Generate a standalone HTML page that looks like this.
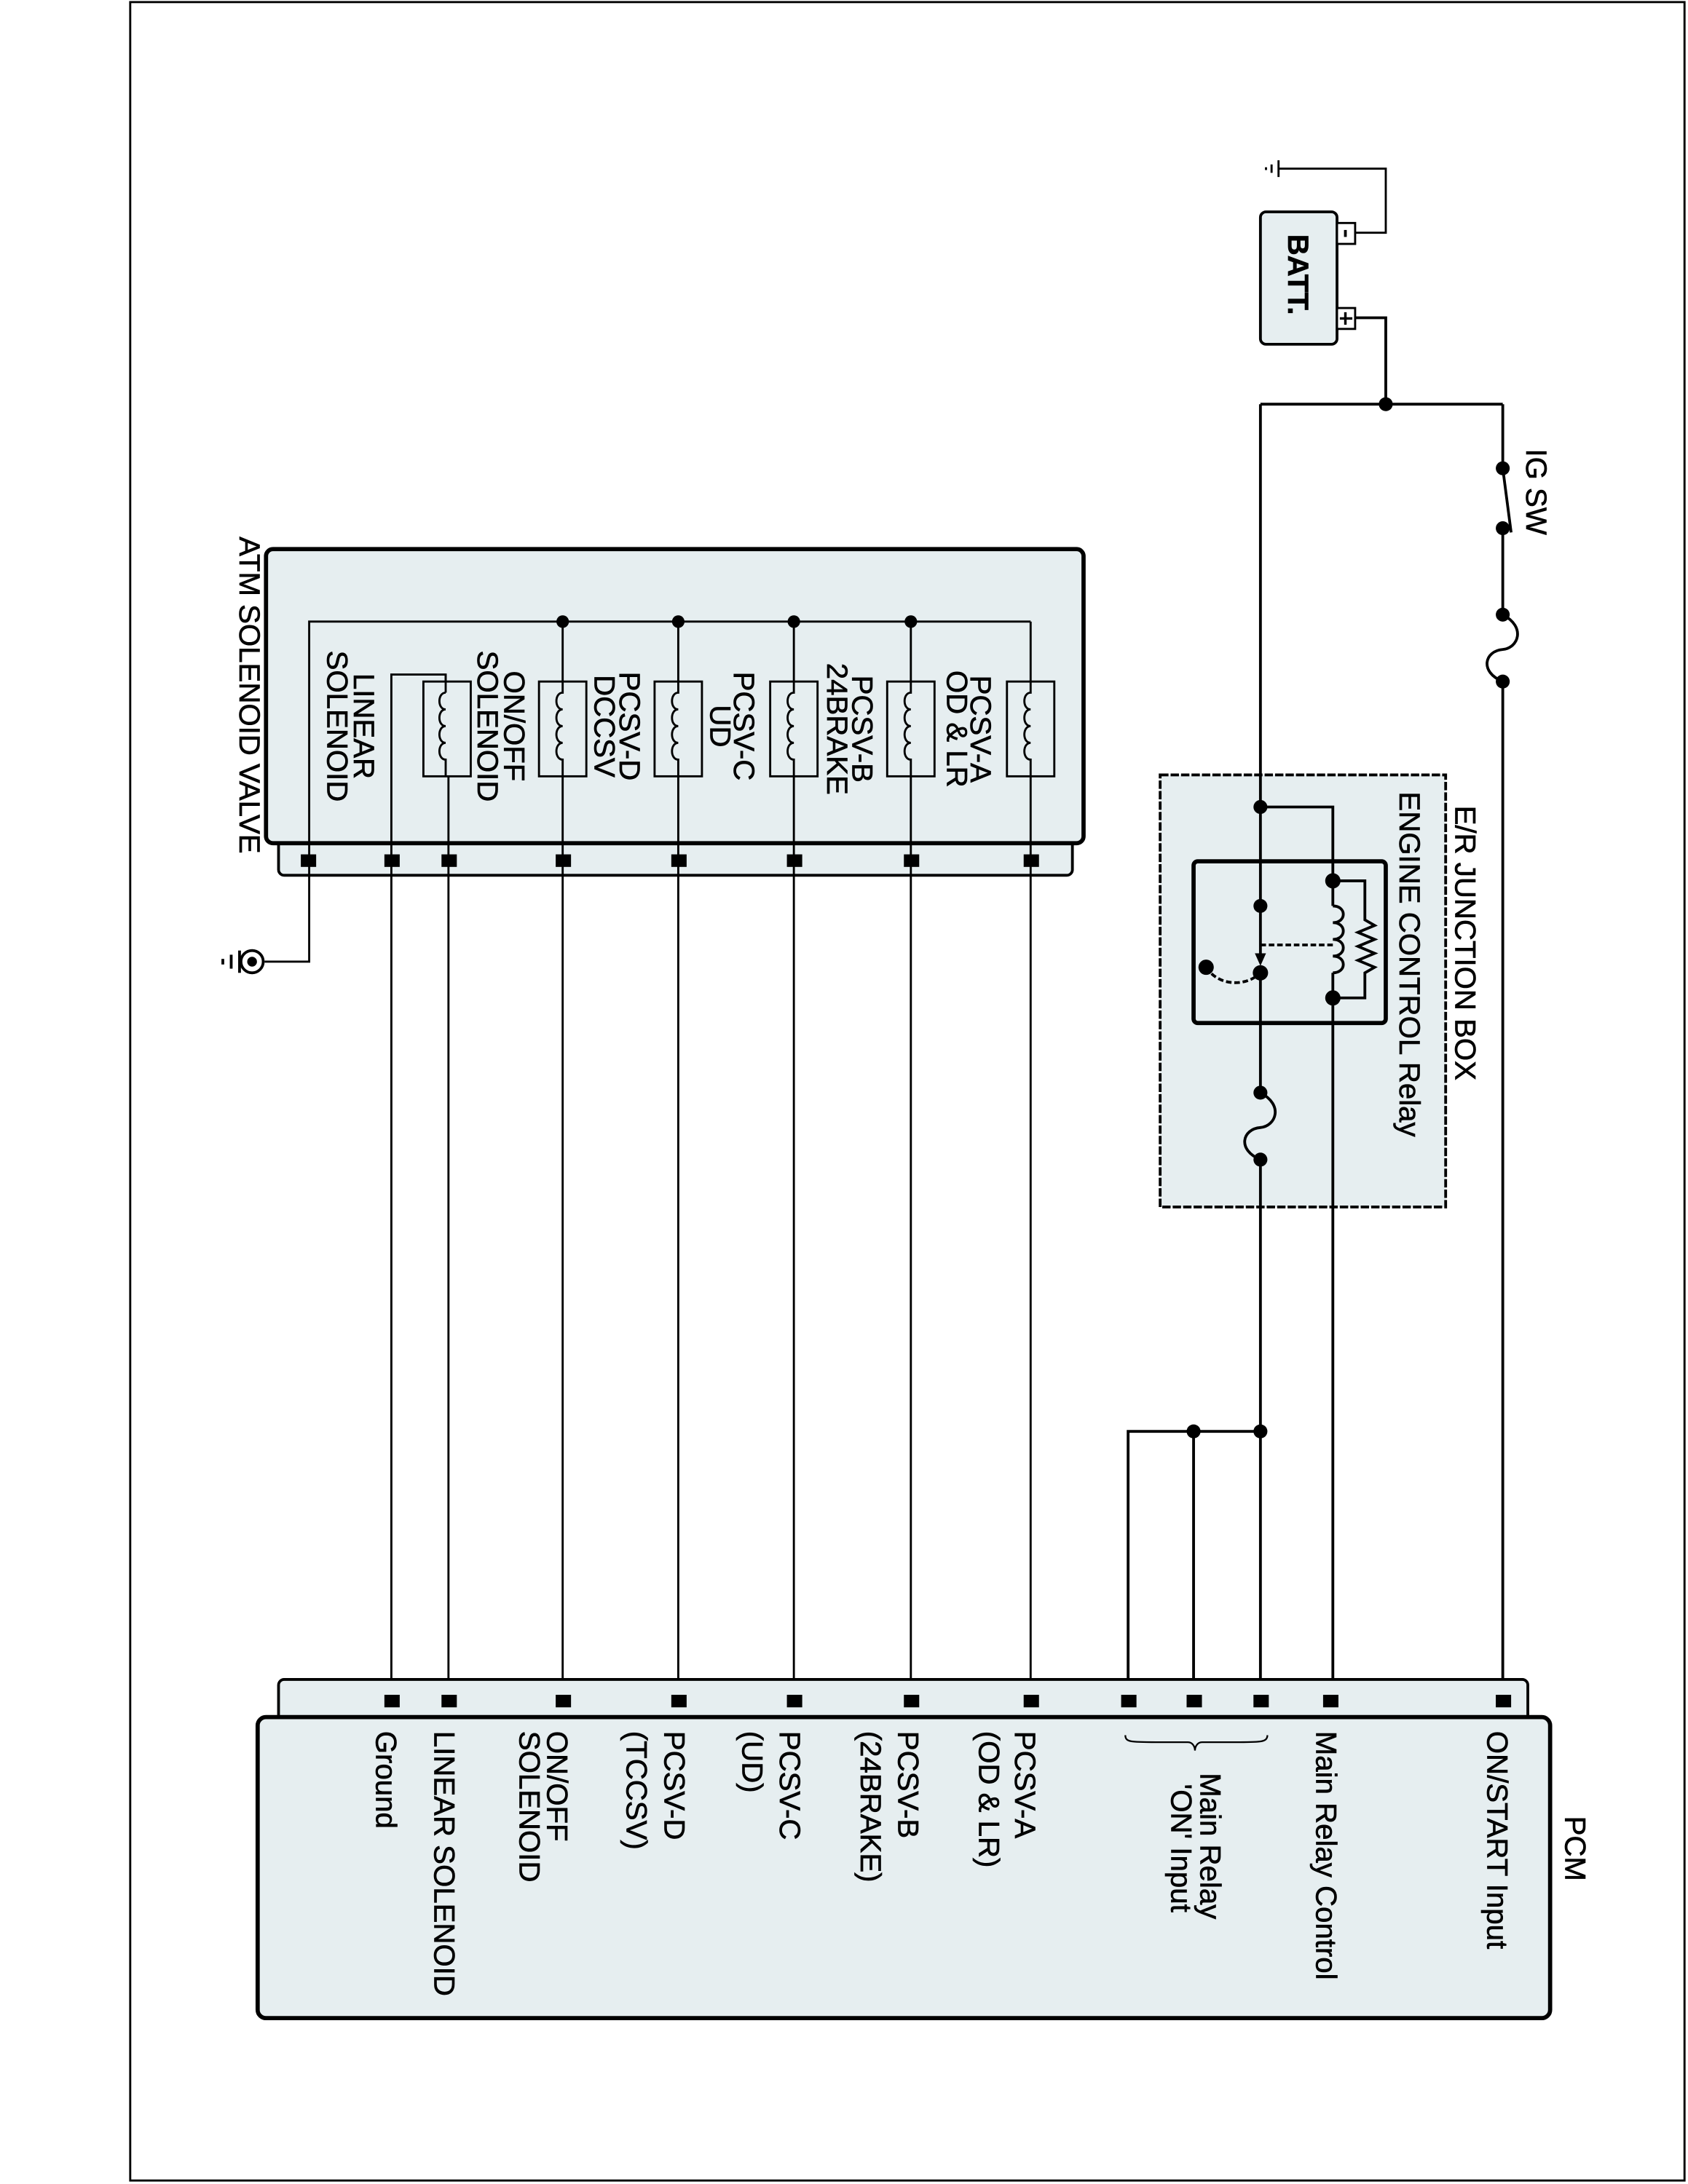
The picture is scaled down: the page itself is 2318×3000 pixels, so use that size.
<!DOCTYPE html>
<html><head><meta charset="utf-8"><style>html,body{margin:0;padding:0;background:#fff}svg{display:block}text{font-family:"Liberation Sans",Arial,sans-serif;font-size:21px;fill:#000;stroke:#000;stroke-width:0.35}</style></head>
<body>
<svg width="2318" height="3000" viewBox="0 0 1212 1567" preserveAspectRatio="none" xmlns="http://www.w3.org/2000/svg">
<rect x="0" y="0" width="1212" height="1567" fill="#fff"/>
<rect x="93.5" y="1.5" width="1116" height="1563" fill="none" stroke="#000" stroke-width="1.5"/>

<!-- Junction box background -->
<rect x="833" y="556" width="205" height="310" fill="#e6eef0" stroke="#000" stroke-width="2" stroke-dasharray="6,1.5"/>
<text transform="translate(1045,578) rotate(90)">E/R JUNCTION BOX</text>
<text transform="translate(1005,568) rotate(90)">ENGINE CONTROL Relay</text>
<rect x="857" y="618" width="138" height="116" rx="3" fill="none" stroke="#000" stroke-width="3"/>

<!-- Battery -->
<rect x="905" y="152" width="55" height="95" rx="4" fill="#e6eef0" stroke="#000" stroke-width="2"/>
<rect x="960" y="160" width="13" height="15" fill="#fff" stroke="#000" stroke-width="1.5"/>
<rect x="960" y="221" width="13" height="15" fill="#fff" stroke="#000" stroke-width="1.5"/>
<line x1="966" y1="165" x2="966" y2="170" stroke="#000" stroke-width="2"/>
<line x1="966" y1="224" x2="966" y2="233" stroke="#000" stroke-width="1.8"/>
<line x1="962" y1="228.5" x2="971" y2="228.5" stroke="#000" stroke-width="1.8"/>
<text transform="translate(925,197) rotate(90)" text-anchor="middle" style="font-size:21px;font-weight:bold">BATT.</text>
<g stroke="#000" stroke-width="1.5" fill="none">
<polyline points="973,167 995,167 995,121 918,121"/>
<line x1="918" y1="115" x2="918" y2="127"/><line x1="913" y1="118" x2="913" y2="124"/><line x1="909" y1="120" x2="909" y2="122"/>
</g>
<g stroke="#000" stroke-width="2" fill="none">
<polyline points="973,228 995,228 995,290"/>
<line x1="905" y1="290" x2="1079" y2="290"/>
<line x1="1079" y1="290" x2="1079" y2="336"/>
<line x1="1079" y1="336" x2="1085" y2="382"/>
<line x1="1079" y1="379" x2="1079" y2="441"/>
<path d="M1079,441 C1096,450 1090,465 1079,466 C1066,467 1062,482 1079,489"/>
<line x1="1079" y1="489" x2="1079" y2="1220"/>
<line x1="905" y1="290" x2="905" y2="690"/>
<line x1="905" y1="698" x2="905" y2="784"/>
<path d="M905,784 C922,793 916,808 905,809 C892,810 888,825 905,832"/>
<line x1="905" y1="832" x2="905" y2="1220"/>
</g>
<g fill="#000">
<circle cx="995" cy="290" r="5"/><circle cx="1079" cy="336" r="5"/><circle cx="1079" cy="379" r="5"/><circle cx="1079" cy="441" r="5"/><circle cx="1079" cy="489" r="5"/>
</g>
<text transform="translate(1096,322) rotate(90)">IG SW</text>

<!-- relay internals -->
<g stroke="#000" stroke-width="2" fill="none">
<polyline points="905,579 957,579 957,650"/>
<path d="M957,650 c10,0 10,12 0,12 c10,0 10,12 0,12 c10,0 10,12 0,12 c10,0 10,12 0,12"/>
<line x1="957" y1="698" x2="957" y2="1220"/>
<polyline points="957,632 980,632 980,660 987,664 975,669 987,674 975,679 987,684 975,689 987,694 980,698 980,716 957,716"/>
<line x1="905" y1="678" x2="957" y2="678" stroke-dasharray="4,2"/>
<path d="M866,694 C875,708 895,708 905,698" stroke-dasharray="4,2"/>
</g>
<polygon points="901,684 909,684 905,693" fill="#000"/>
<g fill="#000">
<circle cx="905" cy="579" r="5"/><circle cx="957" cy="632" r="5.5"/><circle cx="957" cy="716" r="5.5"/><circle cx="905" cy="650" r="5"/><circle cx="905" cy="698" r="5.5"/><circle cx="866" cy="694" r="5.5"/><circle cx="905" cy="784" r="5"/><circle cx="905" cy="832" r="5"/>
</g>

<g stroke="#000" stroke-width="2" fill="none">
<polyline points="810,1220 810,1027 905,1027"/>
<line x1="857" y1="1027" x2="857" y2="1220"/>
</g>
<circle cx="857" cy="1027" r="5" fill="#000"/><circle cx="905" cy="1027" r="5" fill="#000"/>

<!-- ATM box -->
<rect x="200" y="598" width="570" height="30" rx="4" fill="#e6eef0" stroke="#000" stroke-width="2"/>
<rect x="191" y="394" width="587" height="211" rx="5" fill="#e6eef0" stroke="#000" stroke-width="3"/>
<text transform="translate(172,385) rotate(90)">ATM SOLENOID VALVE</text>
<g stroke="#000" stroke-width="1.5" fill="none">
<polyline points="222,617 222,446 740,446"/>
<rect x="723" y="489" width="34" height="68"/><rect x="637" y="489" width="34" height="68"/><rect x="553" y="489" width="34" height="68"/><rect x="470" y="489" width="34" height="68"/><rect x="387" y="489" width="34" height="68"/><rect x="304" y="489" width="34" height="68"/>
<polyline points="281,617 281,484 320,484 320,489"/>
<line x1="322" y1="557" x2="322" y2="1220"/>
<line x1="320" y1="484" x2="320" y2="497"/>
<path d="M740,446 V497 c-6,0 -6,12 0,12 c-6,0 -6,12 0,12 c-6,0 -6,12 0,12 c-6,0 -6,12 0,12 V1220"/>
<path d="M654,446 V497 c-6,0 -6,12 0,12 c-6,0 -6,12 0,12 c-6,0 -6,12 0,12 c-6,0 -6,12 0,12 V1220"/>
<path d="M570,446 V497 c-6,0 -6,12 0,12 c-6,0 -6,12 0,12 c-6,0 -6,12 0,12 c-6,0 -6,12 0,12 V1220"/>
<path d="M487,446 V497 c-6,0 -6,12 0,12 c-6,0 -6,12 0,12 c-6,0 -6,12 0,12 c-6,0 -6,12 0,12 V1220"/>
<path d="M404,446 V497 c-6,0 -6,12 0,12 c-6,0 -6,12 0,12 c-6,0 -6,12 0,12 c-6,0 -6,12 0,12 V1220"/>
<path d="M320,497 c-6,0 -6,12 0,12 c-6,0 -6,12 0,12 c-6,0 -6,12 0,12 c-6,0 -6,12 0,12 V557"/>
<line x1="281" y1="617" x2="281" y2="1220"/>
<polyline points="222,617 222,690 190,690"/>
</g>
<g fill="#000"><circle cx="404" cy="446" r="4.5"/><circle cx="487" cy="446" r="4.5"/><circle cx="570" cy="446" r="4.5"/><circle cx="654" cy="446" r="4.5"/></g>
<circle cx="181" cy="690" r="8" fill="none" stroke="#000" stroke-width="2"/><circle cx="181" cy="690" r="3.5" fill="#000"/>
<g stroke="#000" stroke-width="2"><line x1="172" y1="682" x2="172" y2="698"/><line x1="166" y1="685" x2="166" y2="695"/><line x1="160" y1="688" x2="160" y2="692"/></g>
<g fill="#000">
<rect x="216" y="613" width="11" height="9"/><rect x="276" y="613" width="11" height="9"/><rect x="317" y="613" width="11" height="9"/><rect x="399" y="613" width="11" height="9"/><rect x="482" y="613" width="11" height="9"/><rect x="565" y="613" width="11" height="9"/><rect x="649" y="613" width="11" height="9"/><rect x="735" y="613" width="11" height="9"/>
</g>
<g text-anchor="middle">
<text transform="translate(697,523) rotate(90)">PCSV-A</text><text transform="translate(680,523) rotate(90)">OD &amp; LR</text>
<text transform="translate(612,523) rotate(90)">PCSV-B</text><text transform="translate(594,523) rotate(90)">24BRAKE</text>
<text transform="translate(527,521) rotate(90)">PCSV-C</text><text transform="translate(510,521) rotate(90)">UD</text>
<text transform="translate(445,521) rotate(90)">PCSV-D</text><text transform="translate(427,521) rotate(90)">DCCSV</text>
<text transform="translate(362,521) rotate(90)">ON/OFF</text><text transform="translate(343,521) rotate(90)">SOLENOID</text>
<text transform="translate(254,521) rotate(90)">LINEAR</text><text transform="translate(235,521) rotate(90)">SOLENOID</text>
</g>

<!-- PCM -->
<rect x="200" y="1205" width="897" height="32" rx="4" fill="#e6eef0" stroke="#000" stroke-width="2"/>
<rect x="185" y="1232" width="928" height="216" rx="6" fill="#e6eef0" stroke="#000" stroke-width="3"/>
<g fill="#000">
<rect x="276" y="1216" width="11" height="9"/><rect x="317" y="1216" width="11" height="9"/><rect x="399" y="1216" width="11" height="9"/><rect x="482" y="1216" width="11" height="9"/><rect x="565" y="1216" width="11" height="9"/><rect x="649" y="1216" width="11" height="9"/><rect x="735" y="1216" width="11" height="9"/><rect x="805" y="1216" width="11" height="9"/><rect x="852" y="1216" width="11" height="9"/><rect x="900" y="1216" width="11" height="9"/><rect x="950" y="1216" width="11" height="9"/><rect x="1074" y="1216" width="11" height="9"/>
</g>
<path d="M808,1245 C808,1250 812,1250 830,1250 L853,1250 C856,1250 858,1253 858,1256 C858,1253 860,1250 863,1250 L890,1250 C905,1250 910,1250 910,1245" fill="none" stroke="#000" stroke-width="1.2"/>
<g>
<text transform="translate(1124,1303) rotate(90)">PCM</text>
<text transform="translate(1068,1242) rotate(90)">ON/START Input</text>
<text transform="translate(945,1242) rotate(90)">Main Relay Control</text>
<text transform="translate(862,1272) rotate(90)">Main Relay</text>
<text transform="translate(841,1280) rotate(90)">'ON' Input</text>
<text transform="translate(729,1242) rotate(90)">PCSV-A</text><text transform="translate(703,1242) rotate(90)">(OD &amp; LR)</text>
<text transform="translate(645,1242) rotate(90)">PCSV-B</text><text transform="translate(618,1242) rotate(90)">(24BRAKE)</text>
<text transform="translate(560,1242) rotate(90)">PCSV-C</text><text transform="translate(533,1242) rotate(90)">(UD)</text>
<text transform="translate(477,1242) rotate(90)">PCSV-D</text><text transform="translate(450,1242) rotate(90)">(TCCSV)</text>
<text transform="translate(393,1242) rotate(90)">ON/OFF</text><text transform="translate(373,1242) rotate(90)">SOLENOID</text>
<text transform="translate(312,1242) rotate(90)">LINEAR SOLENOID</text>
<text transform="translate(270,1242) rotate(90)">Ground</text>
</g>
</svg>
</body></html>
